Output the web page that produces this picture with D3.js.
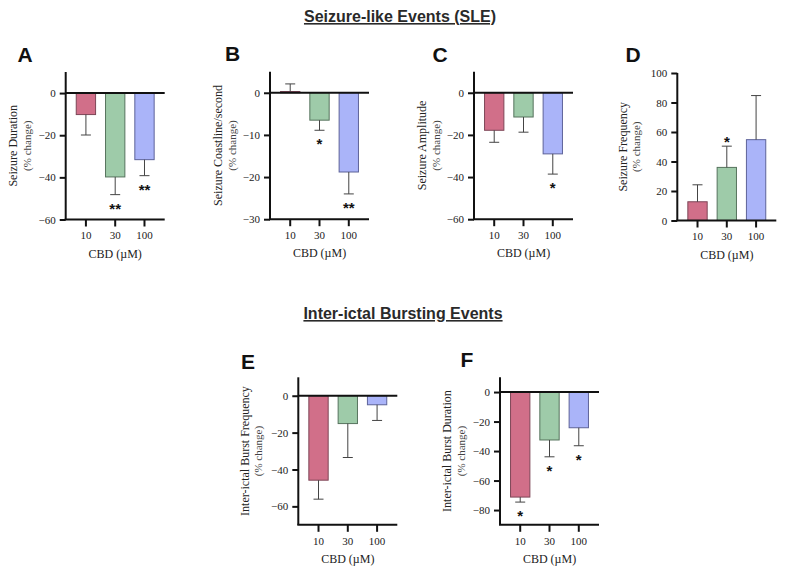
<!DOCTYPE html>
<html>
<head>
<meta charset="utf-8">
<title>CBD seizure panels</title>
<script src="https://cdn.jsdelivr.net/npm/d3@7"></script>
<style>
    body { margin:0; background:white; }
    svg { display:block; }
    .ylab { font-family:'Liberation Serif', serif; fill:#222; }
    .xlab { font-family:'Liberation Serif', serif; font-size:12px; fill:#222; }
    .letter { font-family:'Liberation Sans', Arial, sans-serif; font-weight:bold; font-size:21px; fill:#111; }
    .title { font-family:'Liberation Sans', Arial, sans-serif; font-weight:bold; font-size:16px; fill:#2a2a2a; text-decoration:underline; }
    .star { font-family:'Liberation Sans', Arial, sans-serif; font-weight:bold; font-size:15px; fill:#111; }
</style>
</head>
<body>
<svg id="svg" width="787" height="570"></svg>
<script>
// doses on the x axis of every panel
const doses = ["10", "30", "100"];

// A - seizure duration
const durationMean = [-10.2, -39.8, -31.6];
const durationErr = [-19.9, -48.2, -39.2];
const durationStars = ["", "**", "**"];
const durationTicks = [0, -20, -40, -60];

// B - seizure coastline/second
const coastMean = [0.3, -6.5, -18.8];
const coastErr = [2.1, -8.9, -24.0];
const coastStars = ["", "*", "**"];
const coastTicks = [0, -10, -20, -30];

// C - seizure amplitude
const ampMean = [-17.8, -11.5, -29.0];
const ampErr = [-23.5, -18.7, -38.6];
const ampStars = ["", "", "*"];
const ampTicks = [0, -20, -40, -60];

// D - seizure frequency
const freqMean = [12.7, 36.0, 54.8];
const freqErr = [24.2, 50.4, 84.7];
const freqStars = ["", "*", ""];
const freqTicks = [0, 20, 40, 60, 80, 100];

// E - inter-ictal burst frequency
const burstFreqMean = [-45.8, -15.1, -4.9];
const burstFreqErr = [-56.1, -33.5, -13.4];
const burstFreqStars = ["", "", ""];
const burstFreqTicks = [0, -20, -40, -60];

// F - inter-ictal burst duration
const burstDurMean = [-71.2, -32.5, -24.2];
const burstDurErr = [-74.6, -43.9, -36.4];
const burstDurStars = ["*", "*", "*"];
const burstDurTicks = [0, -20, -40, -60, -80];

const fills = ["#d16f89", "#9ecba9", "#aab4f9"];
const strokes = ["#7d4657", "#56735d", "#5d6399"];

const W = 99, H = 147.5;

let svg = d3.select('#svg');

svg.append("text").attr("class", "title")
    .attr("x", 400).attr("y", 22).attr("text-anchor", "middle")
    .text("Seizure-like Events (SLE)");
svg.append("text").attr("class", "title")
    .attr("x", 403).attr("y", 319).attr("text-anchor", "middle")
    .text("Inter-ictal Bursting Events");

function styleTicks(sel) {
    sel.selectAll(".tick text")
        .style("font-family", "'Liberation Serif', serif")
        .style("font-size", "11px")
        .attr("fill", "#222");
}

function drawPanel(p) {
    let g = svg.append("g").attr("transform", `translate(${p.x0},${p.y0})`);

    let x = d3.scaleBand().domain(doses).range([0, W])
        .paddingInner(0.34).paddingOuter(0.36);
    let y = d3.scaleLinear().domain(p.domain).range([H, 0]);

    // bars
    g.selectAll("rect.bar").data(p.mean).enter().append("rect")
        .attr("class", "bar")
        .attr("x", (d, i) => x(doses[i]))
        .attr("width", x.bandwidth())
        .attr("y", d => Math.min(y(d), y(0)))
        .attr("height", d => Math.abs(y(d) - y(0)))
        .attr("fill", (d, i) => fills[i])
        .attr("stroke", (d, i) => strokes[i])
        .attr("stroke-width", 1);

    // one sided error bars
    let cx = i => x(doses[i]) + x.bandwidth() / 2;
    g.selectAll("line.err").data(p.err).enter().append("line")
        .attr("x1", (d, i) => cx(i)).attr("x2", (d, i) => cx(i))
        .attr("y1", (d, i) => y(p.mean[i])).attr("y2", d => y(d))
        .attr("stroke", "#444").attr("stroke-width", 1);
    g.selectAll("line.cap").data(p.err).enter().append("line")
        .attr("x1", (d, i) => cx(i) - 5).attr("x2", (d, i) => cx(i) + 5)
        .attr("y1", d => y(d)).attr("y2", d => y(d))
        .attr("stroke", "#444").attr("stroke-width", 1);

    // significance stars
    g.selectAll("text.star").data(p.stars).enter().append("text")
        .attr("class", "star")
        .attr("x", (d, i) => cx(i))
        .attr("y", (d, i) => p.err[i] < 0 ? y(p.err[i]) + 19 : y(p.err[i]) + 1)
        .attr("text-anchor", "middle")
        .text(d => d);

    // zero line (for negative panels)
    if (p.domain[0] < 0) {
        g.append("line").attr("x1", 0).attr("x2", W)
            .attr("y1", y(0)).attr("y2", y(0))
            .attr("stroke", "#111").attr("stroke-width", 2);
    }

    let yAxis = d3.axisLeft(y).tickValues(p.ticks).tickSize(6).tickPadding(4);
    let ya = g.append("g").call(yAxis);
    ya.select(".domain").attr("stroke", "#111").attr("stroke-width", 2)
        .attr("d", `M0,0V${H}`);
    ya.selectAll(".tick line").attr("stroke", "#111").attr("stroke-width", 2);
    styleTicks(ya);

    let xAxis = d3.axisBottom(x).tickSize(7).tickPadding(5);
    let xa = g.append("g").attr("transform", `translate(0,${H})`).call(xAxis);
    xa.select(".domain").attr("stroke", "#111").attr("stroke-width", 2)
        .attr("d", `M-1,0H${W}`);
    xa.selectAll(".tick line").attr("stroke", "#111").attr("stroke-width", 2);
    styleTicks(xa);

    g.append("text").attr("class", "xlab")
        .attr("x", W / 2).attr("y", H + 38).attr("text-anchor", "middle")
        .text("CBD (\u00b5M)");

    let yl = g.append("g").attr("transform", `translate(${p.labx},${H / 2}) rotate(-90)`);
    yl.append("text").attr("class", "ylab").attr("text-anchor", "middle")
        .attr("y", 0).attr("dy", "0.35em").style("font-size", "12px").text(p.label);
    yl.append("text").attr("class", "ylab").attr("text-anchor", "middle")
        .attr("y", 14).attr("dy", "0.35em").style("font-size", "11px").style("fill", "#444")
        .text("(% change)");

    svg.append("text").attr("class", "letter")
        .attr("x", p.lx).attr("y", p.ly).attr("text-anchor", "middle")
        .text(p.letter);
}

const panels = [
    {letter:"A", x0:65.7, y0:72, lx:25, ly:62, labx:-53, domain:[-60, 10], ticks:durationTicks,
     mean:durationMean, err:durationErr, stars:durationStars, label:"Seizure Duration"},
    {letter:"B", x0:270, y0:71.7, lx:232.5, ly:61, labx:-52, domain:[-30, 5], ticks:coastTicks,
     mean:coastMean, err:coastErr, stars:coastStars, label:"Seizure Coastline/second"},
    {letter:"C", x0:474, y0:71.7, lx:440, ly:62, labx:-52, domain:[-60, 10], ticks:ampTicks,
     mean:ampMean, err:ampErr, stars:ampStars, label:"Seizure Amplitude"},
    {letter:"D", x0:677.3, y0:73, lx:633, ly:62, labx:-55, domain:[0, 100], ticks:freqTicks,
     mean:freqMean, err:freqErr, stars:freqStars, label:"Seizure Frequency"},
    {letter:"E", x0:298.3, y0:377.3, lx:248, ly:368.5, labx:-54, domain:[-70, 10], ticks:burstFreqTicks,
     mean:burstFreqMean, err:burstFreqErr, stars:burstFreqStars, label:"Inter-ictal Burst Frequency"},
    {letter:"F", x0:500, y0:377.3, lx:467, ly:366.5, labx:-53, domain:[-90, 10], ticks:burstDurTicks,
     mean:burstDurMean, err:burstDurErr, stars:burstDurStars, label:"Inter-ictal Burst Duration"}
];

panels.forEach(drawPanel);
</script>
</body>
</html>
